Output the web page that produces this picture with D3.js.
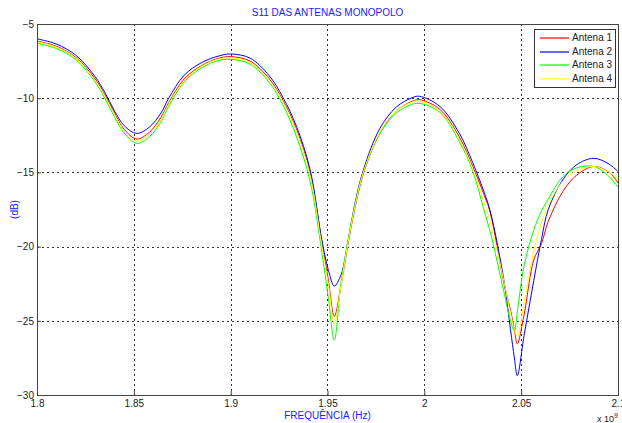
<!DOCTYPE html>
<html>
<head>
<meta charset="utf-8">
<script src="https://cdn.jsdelivr.net/npm/d3@7"></script>
<style>
  body { margin: 0; background: #fff; }
  text { font-family: 'Liberation Sans', Arial, sans-serif; }
</style>
</head>
<body>
<div class="chart"></div>
<script>
// frequencies in units of 1e9 Hz
const freq = [1.800, 1.810, 1.820, 1.830, 1.835, 1.840, 1.845, 1.8515, 1.858, 1.864,
  1.868, 1.876, 1.885, 1.894, 1.900, 1.910, 1.920, 1.927, 1.934, 1.941,
  1.947, 1.9505, 1.9535, 1.957, 1.9605, 1.964, 1.9685, 1.977, 1.9855, 1.994,
  1.9975, 2.008, 2.018, 2.025, 2.0305, 2.034, 2.041, 2.0445, 2.0465, 2.048,
  2.0515, 2.0565, 2.0605, 2.064, 2.0715, 2.0785, 2.0875, 2.0955, 2.100];

const antena1 = [-6.15, -6.5, -7.25, -8.7, -9.75, -11.0, -12.1, -12.75, -12.3, -11.3,
  -10.3, -8.7, -7.8, -7.3, -7.2, -7.5, -8.7, -10.15, -12.1, -15.0,
  -19.6, -22.3, -24.7, -22.6, -19.9, -17.5, -15.1, -12.35, -10.85, -10.2,
  -10.1, -10.75, -12.6, -14.6, -16.4, -17.7, -22.4, -24.3, -25.6, -26.55,
  -24.6, -20.9, -19.8, -18.3, -16.3, -15.2, -14.6, -15.0, -15.7];

const antena2 = [-6.0, -6.35, -7.1, -8.55, -9.6, -10.85, -11.85, -12.37, -11.95, -11.0,
  -10.0, -8.45, -7.6, -7.15, -7.02, -7.3, -8.5, -9.95, -11.9, -14.8,
  -19.5, -21.6, -22.66, -21.9, -19.7, -17.2, -14.85, -12.05, -10.6, -9.95,
  -9.87, -10.55, -12.35, -14.35, -16.2, -17.6, -22.2, -25.6, -27.5, -28.7,
  -26.0, -22.3, -19.5, -17.5, -15.5, -14.5, -14.05, -14.45, -14.95];

const antena3 = [-6.3, -6.65, -7.4, -8.9, -10.0, -11.25, -12.35, -13.05, -12.6, -11.6,
  -10.55, -8.9, -7.95, -7.45, -7.38, -7.7, -8.95, -10.45, -12.6, -15.6,
  -20.3, -23.5, -26.3, -22.4, -19.7, -17.3, -15.0, -12.4, -11.0, -10.4,
  -10.35, -10.95, -12.9, -14.9, -17.4, -19.0, -23.0, -25.0, -25.7, -24.4,
  -21.3, -18.9, -17.6, -16.8, -15.3, -14.7, -14.6, -15.3, -16.0];

const antena4 = [-6.2, -6.55, -7.3, -8.8, -9.85, -11.1, -12.2, -12.9, -12.45, -11.45,
  -10.4, -8.8, -7.85, -7.35, -7.28, -7.6, -8.8, -10.25, -12.25, -15.2,
  -19.9, -22.6, -25.2, -22.6, -19.8, -17.4, -15.0, -12.3, -10.85, -10.25,
  -10.2, -10.85, -12.75, -14.75, -16.9, -18.3, -22.3, -24.5, -25.6, -26.05,
  -23.8, -20.3, -18.4, -17.2, -15.6, -14.9, -14.6, -15.0, -15.5];

const seriesNames = ['Antena 1', 'Antena 2', 'Antena 3', 'Antena 4'];
const seriesColors = ['#ff0000', '#0000ff', '#00ff00', '#ffff00'];
const seriesValues = [antena1, antena2, antena3, antena4];

const xTicks = [1.8, 1.85, 1.9, 1.95, 2, 2.05, 2.1];
const yTicks = [-30, -25, -20, -15, -10, -5];

const svgWidth = 622,
  svgHeight = 423,
  plotLeft = 37,
  plotRight = 618,
  plotTop = 24,
  plotBottom = 395,
  labelBlue = '#2020ff';

const svg = d3.select('.chart')
  .append('svg')
  .attr('width', svgWidth)
  .attr('height', svgHeight);

const xScale = d3.scaleLinear()
  .domain([1.8, 2.1])
  .range([plotLeft, plotRight]);

const yScale = d3.scaleLinear()
  .domain([-30, -5])
  .range([plotBottom, plotTop]);

// dotted grid
svg.append('g')
  .selectAll('line')
  .data(xTicks.slice(1, -1))
  .join('line')
  .attr('x1', d => Math.round(xScale(d)) + 0.5)
  .attr('x2', d => Math.round(xScale(d)) + 0.5)
  .attr('y1', plotTop)
  .attr('y2', plotBottom)
  .attr('stroke', '#333')
  .attr('stroke-dasharray', '2,3');

svg.append('g')
  .selectAll('line')
  .data(yTicks.slice(1, -1))
  .join('line')
  .attr('x1', plotLeft)
  .attr('x2', plotRight)
  .attr('y1', d => Math.round(yScale(d)) + 0.5)
  .attr('y2', d => Math.round(yScale(d)) + 0.5)
  .attr('stroke', '#333')
  .attr('stroke-dasharray', '2,3');

// axes, ticks pointing inward like matlab
const xAxis = d3.axisBottom(xScale)
  .tickValues(xTicks)
  .tickFormat(d3.format(''))
  .tickSizeInner(-4)
  .tickSizeOuter(0)
  .tickPadding(5);

const yAxis = d3.axisLeft(yScale)
  .tickValues(yTicks)
  .tickSizeInner(-4)
  .tickSizeOuter(0)
  .tickPadding(8);

svg.append('g')
  .attr('transform', `translate(0, ${plotBottom})`)
  .call(xAxis)
  .call(g => g.select('.domain').remove())
  .call(g => g.selectAll('line').attr('stroke', '#444'))
  .selectAll('text')
  .attr('fill', '#222')
  .style('font', '10px "Liberation Sans", Arial, sans-serif');

svg.append('g')
  .attr('transform', `translate(${plotLeft}, 0)`)
  .call(yAxis)
  .call(g => g.select('.domain').remove())
  .call(g => g.selectAll('line').attr('stroke', '#444'))
  .selectAll('text')
  .attr('fill', '#222')
  .attr('dx', 5)
  .style('font', '10px "Liberation Sans", Arial, sans-serif');

// curves
const line = d3.line()
  .x((d, i) => xScale(freq[i]))
  .y(d => yScale(d))
  .curve(d3.curveCatmullRom.alpha(0.5));

svg.append('g')
  .selectAll('path')
  .data(seriesValues)
  .join('path')
  .attr('d', d => line(d))
  .attr('fill', 'none')
  .attr('stroke', (d, i) => seriesColors[i])
  .attr('stroke-width', 1);

// box
svg.append('rect')
  .attr('x', plotLeft + 0.5)
  .attr('y', plotTop + 0.5)
  .attr('width', plotRight - plotLeft)
  .attr('height', plotBottom - plotTop)
  .attr('fill', 'none')
  .attr('stroke', '#444');

// legend
const legend = svg.append('g')
  .attr('transform', 'translate(534, 29)');

legend.append('rect')
  .attr('x', 0.5)
  .attr('y', 0.5)
  .attr('width', 81)
  .attr('height', 58)
  .attr('fill', '#fff')
  .attr('stroke', '#333');

const items = legend.selectAll('.item')
  .data(seriesNames)
  .join('g')
  .attr('class', 'item')
  .attr('transform', (d, i) => `translate(0, ${8 + Math.round(i * 13.7)})`);

// straddle two pixel rows so the swatch reads soft like the original
items.append('line')
  .attr('x1', 6)
  .attr('x2', 35)
  .attr('y1', 1)
  .attr('y2', 1)
  .attr('stroke', d => seriesColors[seriesNames.indexOf(d)])
  .attr('stroke-width', 1.2);

items.append('text')
  .attr('x', 38)
  .attr('y', 0.5)
  .attr('dy', '0.35em')
  .attr('fill', '#222')
  .style('font-size', '10px')
  .text(d => d);

// labels
svg.append('text')
  .attr('x', (plotLeft + plotRight) / 2)
  .attr('y', 16)
  .attr('text-anchor', 'middle')
  .attr('fill', labelBlue)
  .style('font-size', '10px')
  .text('S11 DAS ANTENAS MONOPOLO');

svg.append('text')
  .attr('x', (plotLeft + plotRight) / 2)
  .attr('y', 419)
  .attr('text-anchor', 'middle')
  .attr('fill', labelBlue)
  .style('font-size', '10px')
  .text('FREQUÊNCIA (Hz)');

svg.append('text')
  .attr('transform', `translate(18, ${(plotTop + plotBottom) / 2}) rotate(-90)`)
  .attr('text-anchor', 'middle')
  .attr('fill', labelBlue)
  .style('font-size', '10px')
  .text('(dB)');

const exponent = svg.append('text')
  .attr('x', 597)
  .attr('y', 422)
  .attr('fill', '#222')
  .style('font-size', '9px');

exponent.append('tspan').text('x 10');
exponent.append('tspan')
  .attr('dy', -4)
  .style('font-size', '7px')
  .text('9');
</script>
</body>
</html>
